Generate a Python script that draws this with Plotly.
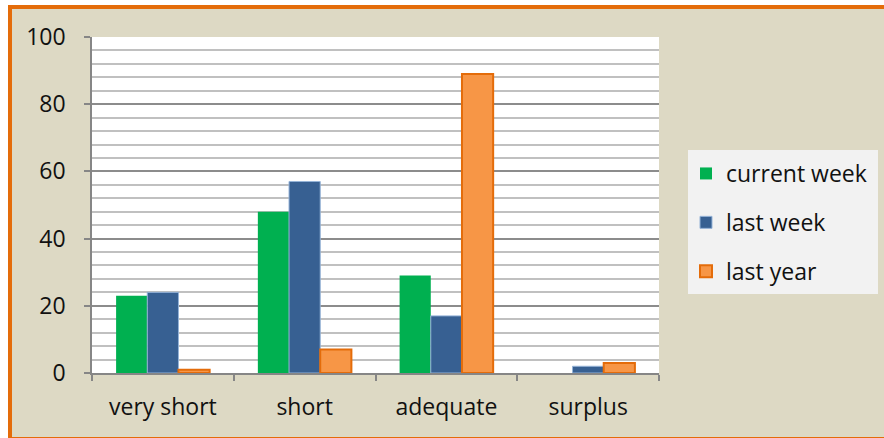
import plotly.graph_objects as go

categories = ["very short", "short", "adequate", "surplus"]
current_week = [23, 48, 29, 0]
last_week = [24, 57, 17, 2]
last_year = [1, 7, 89, 3]
series_names = ["current week", "last week", "last year"]
y_ticks = [0, 20, 40, 60, 80, 100]

W, H = 884, 438
L, R, T, B = 92, 225, 37, 65
PW, PH = W - L - R, H - T - B

def px_x(p):
    return (p - L) / PW

def px_y(p):
    return (H - B - p) / PH

FONT = "Open Sans"

fig = go.Figure()
fig.add_trace(go.Bar(x=categories, y=current_week, name=series_names[0],
                     marker=dict(color="#00B050", line=dict(width=0)),
                     legendgroup="a"))
fig.add_trace(go.Bar(x=categories, y=last_week, name=series_names[1],
                     marker=dict(color="#376092", line=dict(width=1, color="#95B3D7")),
                     legendgroup="b"))
fig.add_trace(go.Bar(x=categories, y=last_year, name=series_names[2],
                     marker=dict(color="#F79646", line=dict(width=2, color="#E46C0A")),
                     legendgroup="c"))

shapes = [
    # legend box
    dict(type="rect", xref="paper", yref="paper", x0=px_x(688), x1=px_x(878),
         y0=px_y(294), y1=px_y(150), fillcolor="#F2F2F2", line=dict(width=0), layer="below"),
    # white outside border
    dict(type="rect", xref="paper", yref="paper", x0=px_x(-5), x1=px_x(8),
         y0=px_y(445), y1=px_y(-5), fillcolor="white", line=dict(width=0), layer="above"),
    dict(type="rect", xref="paper", yref="paper", x0=px_x(-5), x1=px_x(890),
         y0=px_y(5), y1=px_y(-5), fillcolor="white", line=dict(width=0), layer="above"),
    # orange border
    dict(type="rect", xref="paper", yref="paper", x0=px_x(8), x1=px_x(12),
         y0=px_y(438), y1=px_y(5), fillcolor="#E46C0A", line=dict(width=0), layer="above"),
    dict(type="rect", xref="paper", yref="paper", x0=px_x(8), x1=px_x(890),
         y0=px_y(9), y1=px_y(5), fillcolor="#E46C0A", line=dict(width=0), layer="above"),
    dict(type="rect", xref="paper", yref="paper", x0=px_x(8), x1=px_x(890),
         y0=px_y(441), y1=px_y(437), fillcolor="#E46C0A", line=dict(width=0), layer="above"),
]

fig.update_layout(
    width=W, height=H,
    margin=dict(l=L, r=R, t=T, b=B),
    paper_bgcolor="#DDD9C4",
    plot_bgcolor="white",
    barmode="group",
    bargap=0.34,
    bargroupgap=0,
    font=dict(family=FONT, size=23, color="#111111"),
    shapes=shapes,
    legend=dict(x=px_x(686), y=px_y(152), xanchor="left", yanchor="top",
                bgcolor="rgba(0,0,0,0)", traceorder="grouped", tracegroupgap=16,
                font=dict(family=FONT, size=23, color="#111111")),
    xaxis=dict(showgrid=False, showline=True, linecolor="#868686", linewidth=1.5,
               ticks="outside", tickson="boundaries", ticklen=6, tickcolor="#868686",
               tickwidth=1.5, ticklabelstandoff=13, tickfont=dict(size=23)),
    yaxis=dict(range=[0, 100], tickvals=y_ticks, showgrid=True, gridcolor="#8C8C8C",
               gridwidth=1.5, showline=True, linecolor="#868686", linewidth=1.5,
               ticks="outside", ticklen=6, tickcolor="#868686", tickwidth=1.5,
               ticklabelstandoff=14, zeroline=False, tickfont=dict(size=23),
               minor=dict(dtick=4, showgrid=True, gridcolor="#C0C0C0", gridwidth=1.5,
                          ticks="")),
)

fig.write_html("out.html", config={"displayModeBar": False},
               post_script="document.body.style.margin='0';")
